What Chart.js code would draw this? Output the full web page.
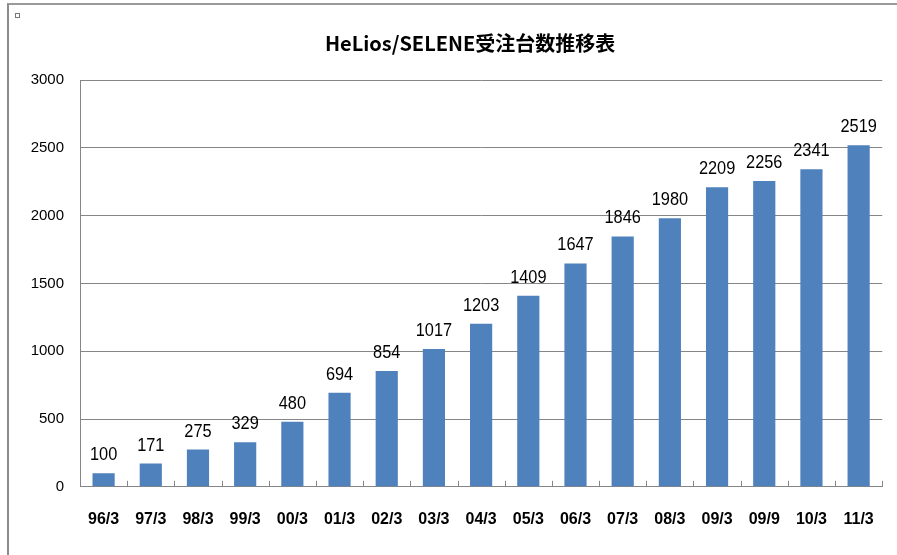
<!DOCTYPE html>
<html>
<head>
<meta charset="utf-8">
<script src="https://cdn.jsdelivr.net/npm/chart.js@4.4.1/dist/chart.umd.min.js"></script>
<style>
  body { margin: 0; background: #fff; }
  #frame { position: absolute; left: 7px; top: 3px; width: 900px; height: 560px;
           border-left: 2px solid #8c8c8c; border-top: 2px solid #9a9a9a; }
  #mark { position: absolute; left: 15px; top: 13px; width: 3px; height: 3px; border: 1px solid #777; }
  #wrap { position: absolute; left: 0; top: 0; width: 897px; height: 555px; }
</style>
</head>
<body>
<div id="frame"></div>
<div id="mark"></div>
<div id="wrap"><canvas id="chart1"></canvas></div>
<script>
const periods = ["96/3","97/3","98/3","99/3","00/3","01/3","02/3","03/3","04/3","05/3","06/3","07/3","08/3","09/3","09/9","10/3","11/3"];
const orders = [100,171,275,329,480,694,854,1017,1203,1409,1647,1846,1980,2209,2256,2341,2519];
const yTicks = [0,500,1000,1500,2000,2500,3000];
const chartTitle = 'HeLios/SELENE受注台数推移表';

const sans = "'Liberation Sans', Arial, sans-serif";

// title, centred a bit left of the plot centre like the original
const titleText = {
  id: 'titleText',
  afterDraw(chart) {
    const ctx = chart.ctx;
    const a = chart.chartArea;
    ctx.save();
    ctx.font = "bold 20px 'Noto Sans CJK JP', sans-serif";
    ctx.fillStyle = '#000';
    ctx.textAlign = 'center';
    ctx.textBaseline = 'middle';
    ctx.fillText(chartTitle, (a.left + a.right) / 2 - 11, 43);
    ctx.restore();
  }
};

// value labels above each bar (slightly condensed like the original)
const barLabels = {
  id: 'barLabels',
  afterDatasetsDraw(chart) {
    const ctx = chart.ctx;
    const meta = chart.getDatasetMeta(0);
    ctx.save();
    ctx.font = "19px " + sans;
    ctx.fillStyle = '#000';
    ctx.textAlign = 'center';
    ctx.textBaseline = 'alphabetic';
    meta.data.forEach((bar, i) => {
      ctx.save();
      ctx.translate(bar.x, bar.y - 13);
      ctx.scale(0.86, 1);
      ctx.fillText(String(orders[i]), 0, 0);
      ctx.restore();
    });
    ctx.restore();
  }
};

// short tick marks pointing up from the x axis, between categories
const innerTicks = {
  id: 'innerTicks',
  afterDraw(chart) {
    const x = chart.scales.x;
    const ctx = chart.ctx;
    const half = (x.getPixelForTick(1) - x.getPixelForTick(0)) / 2;
    const y0 = chart.chartArea.bottom;
    ctx.save();
    ctx.strokeStyle = '#868686';
    ctx.lineWidth = 1;
    ctx.beginPath();
    for (let i = 0; i <= periods.length; i++) {
      const px = Math.round(x.getPixelForTick(0) - half + i * 2 * half) + 0.5;
      ctx.moveTo(px, y0);
      ctx.lineTo(px, y0 - 6);
    }
    ctx.stroke();
    ctx.restore();
  }
};

const ctx = document.getElementById('chart1').getContext('2d');

new Chart(ctx, {
  type: 'bar',
  data: {
    labels: periods,
    datasets: [{
      label: '受注台数',
      data: orders,
      backgroundColor: '#4f81bd',
      borderWidth: 0,
      categoryPercentage: 1,
      barPercentage: 0.47
    }]
  },
  options: {
    responsive: true,
    maintainAspectRatio: false,
    animation: false,
    layout: { padding: { left: 0, right: 8, top: 80, bottom: 3 } },
    plugins: {
      legend: { display: false },
      tooltip: { enabled: false },
      title: { display: false }
    },
    scales: {
      x: {
        grid: { display: false, drawTicks: false },
        border: { display: true, color: '#868686', width: 1 },
        ticks: {
          color: '#000',
          font: { family: sans, size: 16, weight: 'bold' },
          padding: 23,
          maxRotation: 0,
          autoSkip: false
        }
      },
      y: {
        min: 0,
        max: 3000,
        afterFit(scale) { scale.width = 80; },
        afterBuildTicks(scale) { scale.ticks = yTicks.map(v => ({ value: v })); },
        grid: { color: '#868686', drawTicks: false },
        border: { display: true, color: '#868686', width: 1 },
        ticks: {
          color: '#000',
          font: { family: sans, size: 15 },
          padding: 16,
          callback: v => String(v)
        }
      }
    }
  },
  plugins: [titleText, barLabels, innerTicks]
});
</script>
</body>
</html>
